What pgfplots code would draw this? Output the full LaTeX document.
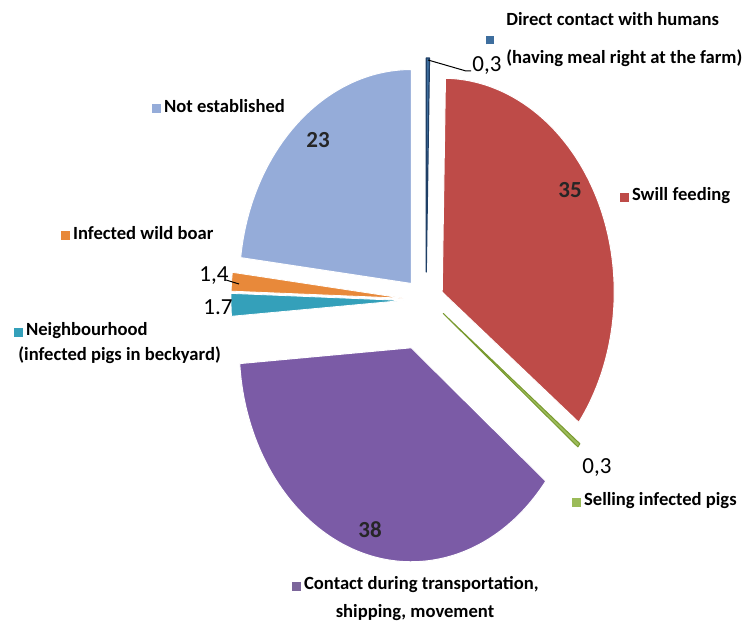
\documentclass[border=0pt]{standalone}
\usepackage{pgfplots}
\pgfplotsset{compat=1.18}
\usepackage{fontspec}
\setmainfont{Carlito}
\definecolor{cDirect}{HTML}{3E6E9E}
\definecolor{cDirectD}{HTML}{1F3F66}
\definecolor{cSwill}{HTML}{BE4B48}
\definecolor{cSell}{HTML}{9BBB59}
\definecolor{cSellD}{HTML}{7A9A30}
\definecolor{cCont}{HTML}{7B5BA6}
\definecolor{cNeigh}{HTML}{34A0BA}
\definecolor{cBoar}{HTML}{E8893A}
\definecolor{cNot}{HTML}{95ACD9}
\newcommand{\lab}{\fontsize{9.3pt}{11pt}\selectfont\bfseries}
\newcommand{\numf}{\fontsize{11.5pt}{13pt}\selectfont}
\newcommand{\sq}[1]{\textcolor{#1}{\rule[-0.3pt]{4.3pt}{4.3pt}}}
% pie data: value / explosion (px) / fill / border / border width
\gdef\cum{0}
\gdef\slices{}
\foreach \v/\e/\fc/\dc/\lw in {
    0.3/28/cDirect/cDirectD/0.6pt,
    35/18/cSwill/white/0.5pt,
    0.3/22/cSell/cSellD/0.5pt,
    38/50/cCont/white/0.5pt,
    1.7/23/cNeigh/white/0.4pt,
    1.4/23/cBoar/white/0.4pt,
    23/22/cNot/white/0.5pt}{
  \pgfmathsetmacro\sa{90-\cum/99.7*360}
  \pgfmathsetmacro\sb{90-(\cum+\v)/99.7*360}
  \pgfmathsetmacro\sm{(\sa+\sb)/2}
  \pgfmathsetmacro\px{426+\e*cos(\sm)}
  \pgfmathsetmacro\py{326+\e*sin(\sm)}
  \xdef\slices{\unexpanded\expandafter{\slices}%
    \noexpand\filldraw[fill=\fc, draw=\dc, line width=\lw, line join=round]
      (axis cs:\px,\py) -- ++(\sa:86pt and 107pt)
      arc[start angle=\sa, end angle=\sb, x radius=86pt, y radius=107pt] -- cycle;}
  \pgfmathsetmacro\nc{\cum+\v}
  \global\let\cum\nc
}
\begin{document}
\begin{tikzpicture}
\begin{axis}[
  width=373pt, height=313pt, scale only axis,
  xmin=0, xmax=746, ymin=0, ymax=626,
  hide axis, clip=false]
\path (axis cs:0,0) rectangle (axis cs:746,626);
\slices
% leader lines
\draw[black, line width=0.5pt] (axis cs:428,566) -- (axis cs:466,555) -- (axis cs:471,555);
\draw[black, line width=0.5pt] (axis cs:226,346) -- (axis cs:239,342);
% value labels
\node[font=\numf] at (axis cs:487,560) {0,3};
\node[font=\numf] at (axis cs:597,158) {0,3};
\node[font=\numf] at (axis cs:214,350) {1,4};
\node[font=\numf] at (axis cs:218,319) {1.7};
\node[font=\numf\bfseries, text=black!85] at (axis cs:570,436) {35};
\node[font=\numf\bfseries, text=black!85] at (axis cs:370,96) {38};
\node[font=\numf\bfseries, text=black!85] at (axis cs:318,486) {23};
% category labels
\node[font=\lab, anchor=west, inner sep=0pt] at (axis cs:506,607) {Direct contact with humans};
\node[font=\lab, anchor=west, inner sep=0pt] at (axis cs:506,568) {(having meal right at the farm)};
\node[inner sep=0pt] at (axis cs:490,586) {\sq{cDirect}};
\node[font=\lab, anchor=west, inner sep=0pt] at (axis cs:620,430) {\sq{cSwill}\,Swill feeding};
\node[font=\lab, anchor=west, inner sep=0pt] at (axis cs:572,125) {\sq{cSell}\,Selling infected pigs};
\node[font=\lab, anchor=west, inner sep=0pt] at (axis cs:292,41) {\sq{cCont!70!gray}\,Contact during transportation,};
\node[font=\lab, inner sep=0pt] at (axis cs:415,13) {shipping, movement};
\node[font=\lab, anchor=west, inner sep=0pt] at (axis cs:14,295) {\sq{cNeigh}\,Neighbourhood};
\node[font=\lab, anchor=west, inner sep=0pt] at (axis cs:18,271) {(infected pigs in beckyard)};
\node[font=\lab, anchor=west, inner sep=0pt] at (axis cs:61,393) {\sq{cBoar}\,Infected wild boar};
\node[font=\lab, anchor=west, inner sep=0pt] at (axis cs:152,520) {\sq{cNot}\,Not established};
\end{axis}
\end{tikzpicture}
\end{document}
